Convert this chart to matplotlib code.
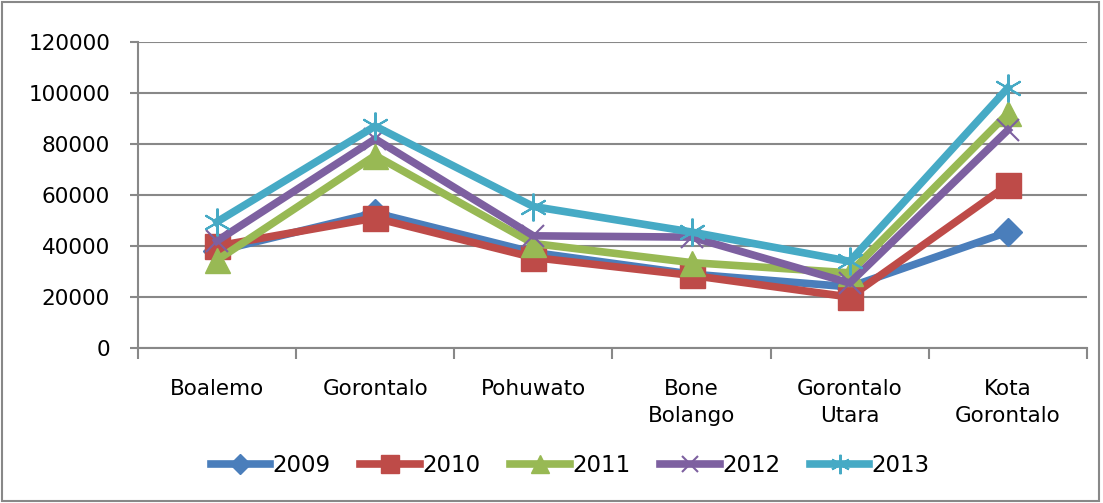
import numpy as np
import matplotlib.pyplot as plt
from matplotlib.patches import Rectangle

categories = ['Boalemo', 'Gorontalo', 'Pohuwato', 'Bone\nBolango', 'Gorontalo\nUtara', 'Kota\nGorontalo']
years = ['2009', '2010', '2011', '2012', '2013']
v2009 = [38000, 53000, 37500, 29000, 24000, 45500]
v2010 = [40000, 51000, 35500, 28500, 20000, 64000]
v2011 = [34500, 75500, 41000, 33500, 29500, 92000]
v2012 = [42000, 82000, 44000, 43500, 25500, 85500]
v2013 = [49500, 87000, 55500, 45500, 34000, 102000]
series = [v2009, v2010, v2011, v2012, v2013]

colors = ['#4A7EBB', '#BE4B48', '#98B954', '#7D60A0', '#46AAC5']
markers = ['D', 's', '^', 'x', (6, 2, 0)]
msizes = [14, 18, 18, 16, 20]

plt.rcParams['font.family'] = ['DejaVu Sans']
fig = plt.figure(figsize=(11.03, 5.03), dpi=100)
ax = fig.add_axes([0.125, 0.308, 0.8605, 0.6085])

x = np.arange(len(categories))
for vals, c, m, ms, lab in zip(series, colors, markers, msizes, years):
    ax.plot(x, vals, color=c, lw=5.5, marker=m, markersize=ms,
            markeredgewidth=1.5 if m in ('x', (6, 2, 0)) else 1,
            markeredgecolor=c, label=lab, solid_joinstyle='miter')

ax.set_ylim(0, 120000)
ax.set_yticks(range(0, 120001, 20000))
ax.set_xlim(-0.5, len(categories) - 0.5)
ax.set_xticks(x)
ax.set_xticklabels(categories, fontsize=15.5, linespacing=1.45)
ax.set_xticks(np.arange(-0.5, len(categories)), minor=True)
ax.tick_params(axis='x', which='major', length=0, pad=22)
ax.tick_params(axis='x', which='minor', length=8, width=1.5, color='#888888')
ax.tick_params(axis='y', length=6, width=1.5, color='#888888', labelsize=15.5, pad=14)
ax.yaxis.grid(True, color='#888888', lw=1.5)
ax.set_axisbelow(True)
for s in ['top', 'right']:
    ax.spines[s].set_visible(False)
for s in ['left', 'bottom']:
    ax.spines[s].set_color('#888888')
    ax.spines[s].set_linewidth(1.5)

ax.legend(loc='center', bbox_to_anchor=(0.4555, -0.385), ncol=5, frameon=False,
          fontsize=16.5, handlelength=2.6, handletextpad=0.1, columnspacing=1.3,
          markerscale=0.7)

fig.patches.append(Rectangle((0.002, 0.004), 0.994, 0.992, transform=fig.transFigure,
                             fill=False, edgecolor='#888888', lw=1.5))

fig.savefig('out.png', dpi=100)
